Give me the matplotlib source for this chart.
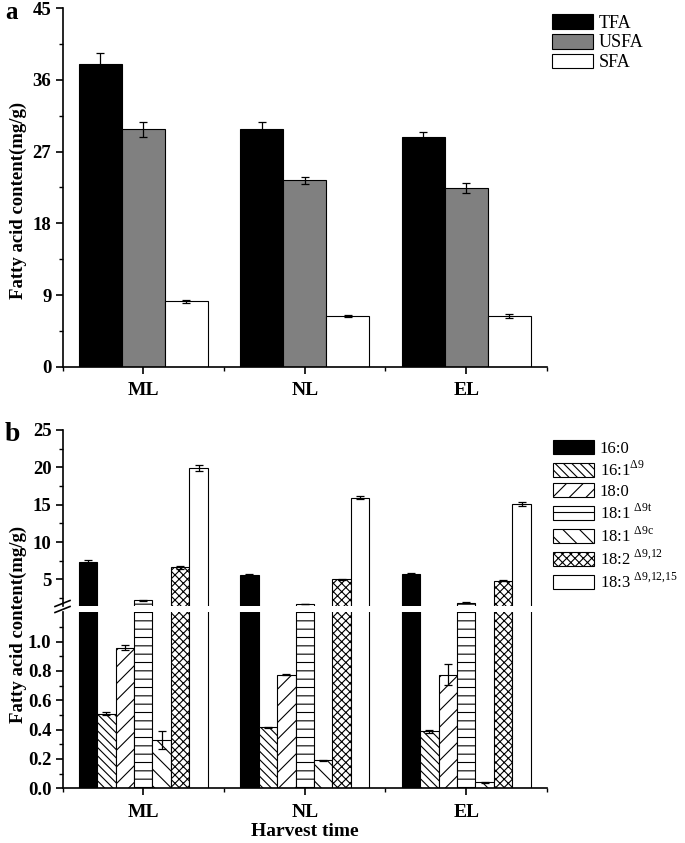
import numpy as np
import matplotlib.pyplot as plt
from matplotlib.ticker import MultipleLocator, FixedLocator
from matplotlib.lines import Line2D

plt.rcParams['font.family'] = ['Liberation Serif', 'DejaVu Serif']
plt.rcParams['mathtext.fontset'] = 'custom'
plt.rcParams['mathtext.rm'] = 'Liberation Serif'
plt.rcParams['hatch.linewidth'] = 0.8
plt.rcParams['hatch.color'] = 'black'

groups = ['ML', 'NL', 'EL']

# ---- panel a data (mg/g) ----
a_names = ['TFA', 'USFA', 'SFA']
tfa = [38.0, 29.9, 28.9]
tfa_err = [1.4, 0.8, 0.6]
usfa = [29.8, 23.4, 22.45]
usfa_err = [0.9, 0.4, 0.6]
sfa = [8.2, 6.4, 6.4]
sfa_err = [0.2, 0.1, 0.25]

# ---- panel b data (mg/g), order: 16:0, 16:1, 18:0, 18:1t, 18:1c, 18:2, 18:3 ----
b_names = ['16:0', r'16:1$^{\mathregular{Δ9}}$', '18:0', r'18:1 $^{\mathregular{Δ9t}}$',
           r'18:1 $^{\mathregular{Δ9c}}$', r'18:2 $^{\mathregular{Δ9{,}12}}$',
           r'18:3 $^{\mathregular{Δ9{,}12{,}15}}$']
ml_vals = [7.3, 0.51, 0.96, 2.2, 0.33, 6.6, 19.9]
ml_err = [0.3, 0.01, 0.02, 0.05, 0.06, 0.2, 0.4]
nl_vals = [5.65, 0.415, 0.775, 1.7, 0.19, 5.0, 15.9]
nl_err = [0.1, 0.005, 0.005, 0.03, 0.005, 0.05, 0.2]
el_vals = [5.67, 0.39, 0.775, 1.9, 0.04, 4.8, 15.1]
el_err = [0.2, 0.01, 0.07, 0.05, 0.005, 0.05, 0.3]

b_faces = ['black', 'white', 'white', 'white', 'white', 'white', 'white']
b_hatch = [None, '\\\\\\\\', '//', '--', '\\\\', 'xxxx', None]

fig = plt.figure(figsize=(6.85, 8.43), dpi=100)
W, H = 685, 843

def px_axes(left, top, right, bottom):
    return fig.add_axes([left / W, 1 - bottom / H, (right - left) / W, (bottom - top) / H])

def style_axes(ax):
    for s in ['top', 'right']:
        ax.spines[s].set_visible(False)
    for s in ['left', 'bottom']:
        ax.spines[s].set_linewidth(1.2)
    ax.tick_params(which='major', direction='out', length=5, width=1.2, labelsize=13.5, pad=3)
    ax.tick_params(axis='x', which='major', labelsize=14)
    ax.tick_params(which='minor', direction='out', length=3, width=1.0)
    for lab in ax.get_yticklabels() + ax.get_xticklabels():
        lab.set_fontweight('bold')

x = np.arange(len(groups))

# ---- panel a ----
ax1 = px_axes(62.5, 8.3, 547, 366.7)
w = 0.8 / 3
a_vals = [tfa, usfa, sfa]
a_errs = [tfa_err, usfa_err, sfa_err]
a_cols = ['black', '#808080', 'white']
a_bars = []
for i in range(3):
    b = ax1.bar(x + (i - 1) * w, a_vals[i], w, color=a_cols[i], edgecolor='black',
                linewidth=0.8, label=a_names[i], zorder=2)
    ax1.errorbar(x + (i - 1) * w, a_vals[i], yerr=a_errs[i], fmt='none', ecolor='black',
                 elinewidth=0.9, capsize=3, capthick=0.9, zorder=3)
    a_bars.append(b)
ax1.set_xlim(-0.5, 2.5)
ax1.set_ylim(0, 45)
ax1.set_yticks(np.arange(0, 46, 9))
ax1.yaxis.set_minor_locator(MultipleLocator(4.5))
ax1.set_xticks(x)
ax1.set_xticklabels(groups)
ax1.xaxis.set_minor_locator(FixedLocator([-0.5, 0.5, 1.5, 2.5]))
style_axes(ax1)
ax1.tick_params(axis='x', which='major', pad=6)
fig.legend(a_bars, a_names, loc='upper left', bbox_to_anchor=(552 / W, 1 - 14 / H),
           bbox_transform=fig.transFigure, frameon=False, fontsize=13,
           handlelength=2.27, handleheight=0.88, handletextpad=0.3,
           labelspacing=0.12, borderpad=0, borderaxespad=0)
fig.text(18 / W, 1 - 200 / H, 'Fatty acid content(mg/g)', rotation=90, ha='center',
         va='center', fontsize=13.5, fontweight='bold')
fig.text(5 / W, 1 - 19 / H, 'a', fontsize=18, fontweight='bold', va='baseline')

# ---- panel b (broken y axis) ----
ax_up = px_axes(62.5, 430, 547, 605.5)
ax_lo = px_axes(62.5, 612.3, 547, 788.3)
wb = 0.8 / 7
vals = np.array([ml_vals, nl_vals, el_vals]).T
errs = np.array([ml_err, nl_err, el_err]).T
b_bars = []
for ax in [ax_up, ax_lo]:
    for i in range(7):
        bb = ax.bar(x + (i - 3) * wb, vals[i], wb, color=b_faces[i], edgecolor='black',
                    hatch=b_hatch[i], linewidth=0.8, zorder=2)
        ax.errorbar(x + (i - 3) * wb, vals[i], yerr=errs[i], fmt='none', ecolor='black',
                    elinewidth=0.9, capsize=3, capthick=0.9, zorder=3)
        if ax is ax_up:
            b_bars.append(bb)
    ax.set_xlim(-0.5, 2.5)

ax_up.set_ylim(1.5, 25)
ax_up.set_yticks([5, 10, 15, 20, 25])
ax_up.yaxis.set_minor_locator(FixedLocator([2.5, 7.5, 12.5, 17.5, 22.5]))
ax_up.set_xticks([])
style_axes(ax_up)
ax_up.spines['bottom'].set_visible(False)

ax_lo.set_ylim(0, 1.2)
ax_lo.set_yticks(np.arange(0, 1.01, 0.2))
ax_lo.set_yticklabels(['%.1f' % v for v in np.arange(0, 1.01, 0.2)])
ax_lo.yaxis.set_minor_locator(FixedLocator([0.1, 0.3, 0.5, 0.7, 0.9, 1.1]))
ax_lo.set_xticks(x)
ax_lo.set_xticklabels(groups)
ax_lo.xaxis.set_minor_locator(FixedLocator([-0.5, 0.5, 1.5, 2.5]))
style_axes(ax_lo)
ax_lo.tick_params(axis='x', which='major', pad=6)
fig.text(305 / W, 1 - 836 / H, 'Harvest time', ha='center', va='baseline',
         fontsize=14, fontweight='bold')

# break marks on the y axis
for yc in [603.5, 609.5]:
    fig.add_artist(Line2D([55 / W, 70 / W], [1 - (yc + 3) / H, 1 - (yc - 3) / H],
                          transform=fig.transFigure, color='black', linewidth=1.2))

fig.legend(b_bars, b_names, loc='upper left', bbox_to_anchor=(553 / W, 1 - 440 / H),
           bbox_transform=fig.transFigure, frameon=False, fontsize=12,
           handlelength=2.45, handleheight=0.9, handletextpad=0.35,
           labelspacing=0.22, borderpad=0, borderaxespad=0)
fig.text(18 / W, 1 - 624 / H, 'Fatty acid content(mg/g)', rotation=90, ha='center',
         va='center', fontsize=13.5, fontweight='bold')
fig.text(5 / W, 1 - 441 / H, 'b', fontsize=20, fontweight='bold', va='baseline')

fig.savefig('out.png', dpi=100)
